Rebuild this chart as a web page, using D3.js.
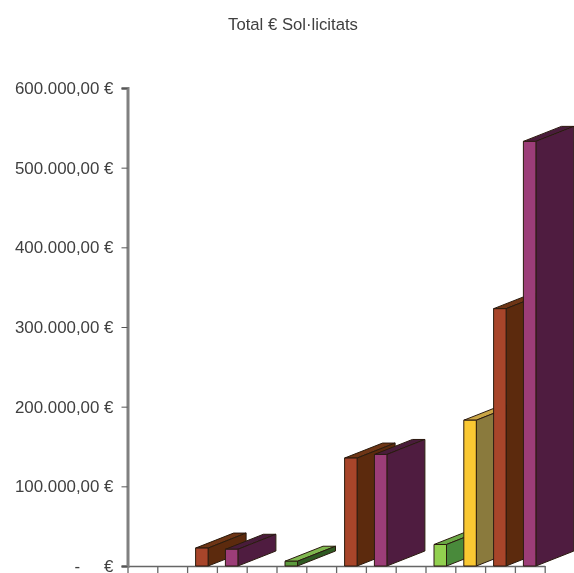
<!DOCTYPE html>
<html>
<head>
<meta charset="utf-8">
<script src="https://cdn.jsdelivr.net/npm/d3@7"></script>
<style>
html, body { margin: 0; padding: 0; background: #fff; }
svg { display: block; }
text { font-family: "Liberation Sans", Arial, sans-serif; fill: #404040; }
</style>
</head>
<body>
<script>
//chart values
var categories = ["1", "2", "3", "4", "5", "6", "7", "8", "9", "10", "11", "12", "13", "14"];
var values = [0, 0, 22500, 21000, 0, 6000, 0, 135500, 140000, 0, 27000, 183000, 323000, 533000];
var groups = ["", "", "orange", "purple", "", "green", "", "orange", "purple", "", "lime", "yellow", "orange", "purple"];
var yTicks = [0, 100000, 200000, 300000, 400000, 500000, 600000];
var title = "Total € Sol·licitats";

var w = 574, h = 573;

//colours for the three faces of each bar
var faces = {
    orange: {front: "#a8442a", side: "#5c2c0e", top: "#6e3412"},
    purple: {front: "#9c3e78", side: "#4f1f40", top: "#4a1c3a"},
    green: {front: "#5c9a3c", side: "#2f5a24", top: "#7fb850"},
    lime: {front: "#92d050", side: "#4a8a3a", top: "#6aa845"},
    yellow: {front: "#fac832", side: "#8a7a3c", top: "#c9a544"}
};

//how far the bars are pushed back
var depthX = 38, depthY = -15;

var x = d3.scaleBand()
    .domain(categories)
    .range([127.5, 544.7])
    .paddingInner(0)
    .paddingOuter(0);

//same range as the band scale, only used for the ticks between bands
var xEdge = d3.scaleLinear()
    .domain([0, categories.length])
    .range(x.range());

var y = d3.scaleLinear()
    .domain([0, 600000])
    .range([566, 88]);

var locale = d3.formatLocale({
    decimal: ",",
    thousands: ".",
    grouping: [3],
    currency: ["", " €"]
});
var money = locale.format("$,.2f");

var svg = d3.select("body")
    .append("svg")
    .attr("width", w)
    .attr("height", h);

//soft edges, the reference is a compressed image
var blur = svg.append("filter")
    .attr("id", "soft")
    .attr("x", "-5%").attr("y", "-5%")
    .attr("width", "110%").attr("height", "110%");
blur.append("feGaussianBlur").attr("stdDeviation", 0.55);

var chart = svg.append("g").attr("filter", "url(#soft)");

chart.append("text")
    .attr("class", "title")
    .attr("x", 293)
    .attr("y", 29.5)
    .attr("text-anchor", "middle")
    .style("font-size", "16.7px")
    .text(title);

//axes go under the bars
var xAxis = d3.axisBottom(xEdge)
    .tickValues(d3.range(categories.length + 1))
    .tickSize(7)
    .tickSizeOuter(0)
    .tickFormat("");

var xG = chart.append("g")
    .attr("class", "axis")
    .attr("transform", "translate(0,566)")
    .call(xAxis);

xG.selectAll(".tick line").attr("stroke", "#666").attr("stroke-width", 1.3);
xG.select(".domain").attr("stroke", "#666").attr("stroke-width", 1.6);

//bars are drawn left to right so later ones cover the depth of earlier ones
var rows = categories.map(function(c, i){
    return {category: c, value: values[i], group: groups[i]};
}).filter(function(d){
    return d.value > 0;
});

var bars = chart.selectAll(".bar")
    .data(rows)
    .enter()
    .append("g")
    .attr("class", "bar")
    .attr("stroke", "#2a1a10")
    .attr("stroke-width", 1)
    .attr("stroke-linejoin", "round");

var barLeft = function(d){ return x(d.category) + 8.5; };
var barRight = function(d){ return barLeft(d) + 12.5; };

bars.append("path")
    .attr("d", function(d){
        var l = barLeft(d), r = barRight(d), t = y(d.value);
        return "M" + l + "," + t + "L" + (l + depthX) + "," + (t + depthY) +
            "L" + (r + depthX) + "," + (t + depthY) + "L" + r + "," + t + "Z";
    })
    .attr("fill", function(d){ return faces[d.group].top; });

bars.append("path")
    .attr("d", function(d){
        var r = barRight(d), t = y(d.value), b = y(0);
        return "M" + r + "," + t + "L" + (r + depthX) + "," + (t + depthY) +
            "L" + (r + depthX) + "," + (b + depthY) + "L" + r + "," + b + "Z";
    })
    .attr("fill", function(d){ return faces[d.group].side; });

bars.append("rect")
    .attr("x", barLeft)
    .attr("y", function(d){ return y(d.value); })
    .attr("width", function(d){ return barRight(d) - barLeft(d); })
    .attr("height", function(d){ return y(0) - y(d.value); })
    .attr("fill", function(d){ return faces[d.group].front; });

var yAxis = d3.axisLeft(y)
    .tickValues(yTicks)
    .tickSize(6)
    .tickPadding(8)
    .tickFormat(money);

var yG = chart.append("g")
    .attr("class", "axis")
    .attr("transform", "translate(127.5,0)")
    .call(yAxis);

yG.selectAll("text").style("font-size", "16.9px");
yG.selectAll(".tick line").attr("stroke", "#555");
yG.select(".domain")
    .attr("stroke", "#808080")
    .attr("stroke-width", 3);

//the zero label is a dash and the euro sign set apart
var zeroLabel = yG.selectAll(".tick text")
    .filter(function(d){ return d === 0; })
    .text("-");
zeroLabel.append("tspan")
    .attr("dx", 24)
    .text("€");
</script>
</body>
</html>
